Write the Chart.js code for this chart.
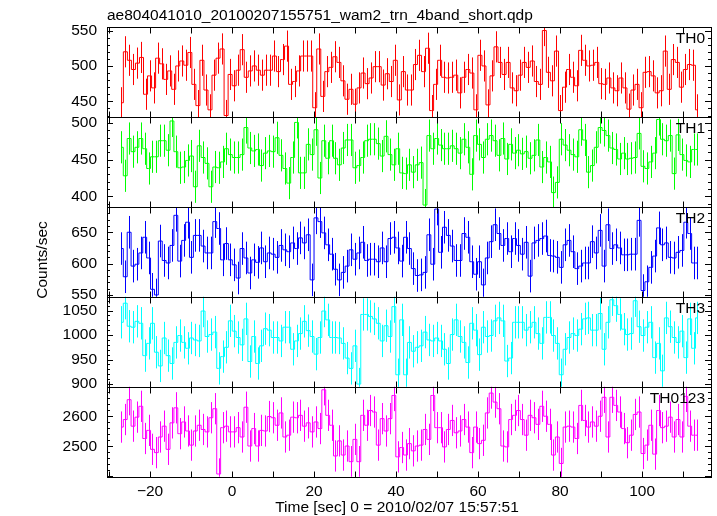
<!DOCTYPE html>
<html>
<head>
<meta charset="utf-8">
<script src="https://cdn.jsdelivr.net/npm/chart.js@4/dist/chart.umd.min.js"></script>
<style>
  html, body { margin: 0; padding: 0; background: #fff; }
</style>
</head>
<body>
<canvas id="qdpChart" width="717" height="516"></canvas>
<script>
// ---- data (1 s bins, counts/sec) ----
const plotTitle = 'ae804041010_20100207155751_wam2_trn_4band_short.qdp';
const xTitle = 'Time [sec] 0 = 2010/02/07 15:57:51';
const yTitle = 'Counts/sec';

const timeFirst = -27;     // centre of first bin
const timeLast = 113.5;    // centre of last bin

const th0Rates = [448, 520, 508, 495, 504, 512, 460, 486, 469, 511, 503, 481, 493, 467, 500, 507, 501, 519, 474, 444,
  508, 466, 438, 487, 511, 524, 430, 488, 472, 494, 523, 484, 493, 500, 494, 487, 494, 494, 514, 492,
  509, 528, 474, 478, 493, 514, 514, 514, 441, 524, 457, 492, 498, 513, 505, 479, 453, 467, 446, 469,
  490, 475, 483, 499, 499, 473, 489, 478, 508, 452, 492, 466, 466, 502, 515, 492, 525, 437, 474, 508,
  484, 483, 484, 487, 462, 484, 495, 490, 438, 515, 500, 445, 486, 527, 505, 488, 505, 469, 465, 487,
  505, 498, 507, 478, 474, 550, 491, 479, 521, 437, 470, 495, 484, 472, 522, 508, 500, 501, 505, 475,
  474, 483, 469, 465, 483, 469, 439, 466, 474, 441, 491, 492, 486, 462, 465, 521, 467, 509, 505, 470,
  495, 502, 501, 438];

const th1Rates = [467, 428, 479, 461, 467, 479, 465, 438, 454, 454, 476, 476, 463, 503, 461, 439, 440, 449, 455, 413,
  469, 453, 445, 413, 440, 439, 447, 465, 457, 453, 453, 457, 494, 466, 462, 464, 442, 459, 462, 461,
  480, 456, 438, 418, 453, 501, 432, 432, 471, 457, 491, 425, 476, 452, 476, 452, 443, 466, 477, 477,
  439, 442, 453, 476, 478, 478, 472, 455, 482, 457, 443, 465, 432, 431, 443, 433, 443, 446, 388, 483,
  465, 479, 470, 465, 465, 469, 465, 459, 478, 467, 430, 483, 471, 453, 478, 483, 476, 456, 479, 451,
  471, 459, 463, 458, 461, 452, 456, 477, 440, 453, 447, 405, 419, 478, 470, 463, 457, 454, 491, 477,
  433, 442, 467, 494, 490, 483, 466, 464, 451, 459, 451, 452, 453, 486, 441, 438, 447, 459, 505, 478,
  476, 483, 431, 484, 457, 449, 447, 464, 464];

const th2Rates = [624, 579, 650, 596, 599, 617, 642, 609, 559, 550, 636, 605, 601, 629, 677, 604, 637, 666, 610, 645,
  645, 628, 617, 617, 667, 656, 606, 632, 606, 598, 577, 624, 609, 585, 606, 602, 625, 603, 617, 615,
  610, 629, 622, 619, 633, 624, 641, 633, 646, 574, 673, 667, 649, 630, 615, 591, 574, 586, 596, 622,
  607, 617, 634, 605, 607, 607, 603, 625, 603, 640, 642, 625, 604, 642, 624, 592, 581, 582, 586, 646,
  599, 687, 618, 658, 645, 628, 605, 605, 648, 642, 603, 583, 603, 566, 609, 635, 662, 648, 629, 640,
  619, 640, 629, 615, 634, 580, 633, 637, 640, 644, 613, 612, 610, 594, 630, 637, 619, 592, 596, 601,
  601, 635, 617, 653, 596, 662, 624, 630, 625, 614, 614, 615, 615, 669, 557, 571, 594, 612, 657, 630,
  633, 610, 609, 618, 621, 666, 648, 601, 601];

const th3Rates = [1026, 1065, 1018, 1016, 1028, 1024, 958, 983, 1024, 965, 937, 994, 958, 942, 985, 999, 985, 973, 994, 990,
  988, 1049, 997, 1001, 1006, 932, 956, 975, 1029, 1008, 995, 980, 1033, 946, 997, 942, 978, 1013, 1010, 995,
  995, 988, 1016, 1016, 971, 988, 1003, 1028, 1009, 997, 961, 995, 1049, 1031, 995, 995, 994, 983, 953, 932,
  978, 900, 1042, 1042, 1038, 1033, 1024, 988, 1019, 997, 1058, 919, 1031, 919, 985, 967, 975, 978, 1006, 990,
  988, 994, 988, 971, 942, 1001, 1031, 997, 985, 944, 1024, 1010, 960, 1016, 997, 999, 1029, 1035, 1029, 947,
  953, 1026, 1026, 1026, 1010, 1016, 1026, 1003, 983, 1036, 1036, 999, 983, 919, 971, 995, 1003, 999, 1012, 1033,
  1035, 1010, 1010, 1044, 971, 1026, 1072, 1060, 1042, 1012, 1001, 1003, 1070, 1017, 999, 1016, 1026, 954, 983, 927,
  1035, 1017, 995, 985, 1008, 954, 1033, 973, 1035];

const th0123Rates = [2564, 2589, 2655, 2567, 2597, 2633, 2526, 2553, 2490, 2479, 2531, 2567, 2490, 2578, 2628, 2542, 2581, 2551, 2504, 2551,
  2570, 2556, 2548, 2595, 2625, 2408, 2562, 2567, 2548, 2548, 2562, 2531, 2630, 2501, 2559, 2501, 2553, 2551, 2599, 2595,
  2570, 2611, 2531, 2537, 2597, 2595, 2603, 2567, 2578, 2548, 2581, 2559, 2688, 2603, 2570, 2468, 2518, 2471, 2501, 2449,
  2523, 2449, 2603, 2570, 2619, 2614, 2504, 2592, 2551, 2592, 2669, 2465, 2496, 2471, 2509, 2485, 2501, 2504, 2556, 2523,
  2669, 2562, 2562, 2498, 2556, 2586, 2545, 2551, 2589, 2564, 2479, 2564, 2509, 2520, 2611, 2677, 2647, 2625, 2501, 2498,
  2589, 2603, 2619, 2589, 2537, 2603, 2595, 2573, 2633, 2600, 2573, 2471, 2531, 2443, 2564, 2567, 2564, 2526, 2636, 2586,
  2564, 2581, 2567, 2600, 2663, 2531, 2663, 2636, 2614, 2559, 2512, 2537, 2606, 2614, 2476, 2504, 2570, 2474, 2619, 2562,
  2567, 2597, 2531, 2589, 2531, 2666, 2567, 2537, 2537];

// typical 1-sigma error of one bin in each band
const th0Err = 22;
const th1Err = 22;
const th2Err = 26;
const th3Err = 33;
const th0123Err = 52;

// tick labels
const xTicks = [-20, 0, 20, 40, 60, 80, 100];
const th0Ticks = [450, 500, 550];
const th1Ticks = [400, 450, 500];
const th2Ticks = [550, 600, 650];
const th3Ticks = [900, 950, 1000, 1050];
const th0123Ticks = [2500, 2600];

// ---- look ----
const FONT = "'Liberation Sans', Arial, Helvetica, sans-serif";
const FONT_SIZE = 15.5;
Chart.defaults.font.family = FONT;
Chart.defaults.font.size = FONT_SIZE;
Chart.defaults.color = '#000';

const panels = [
  { id: 'yTH0', name: 'TH0', rates: th0Rates, err: th0Err, color: '#ff0000', min: 428, max: 555, ticks: th0Ticks, major: 50, minor: 10 },
  { id: 'yTH1', name: 'TH1', rates: th1Rates, err: th1Err, color: '#00ff00', min: 385.5, max: 508.5, ticks: th1Ticks, major: 50, minor: 10 },
  { id: 'yTH2', name: 'TH2', rates: th2Rates, err: th2Err, color: '#0000ff', min: 547, max: 690.5, ticks: th2Ticks, major: 50, minor: 10 },
  { id: 'yTH3', name: 'TH3', rates: th3Rates, err: th3Err, color: '#00ffff', min: 894.5, max: 1078, ticks: th3Ticks, major: 50, minor: 10 },
  { id: 'yTH0123', name: 'TH0123', rates: th0123Rates, err: th0123Err, color: '#ff00ff', min: 2399, max: 2698, ticks: th0123Ticks, major: 100, minor: 20 }
];

// points at bin centres, spread from first to last bin
function binPoints(rates) {
  const step = (timeLast - timeFirst) / (rates.length - 1);
  return rates.map((r, i) => ({ x: timeFirst + i * step, y: r }));
}

const datasets = panels.map(p => ({
  label: p.name,
  data: binPoints(p.rates),
  yAxisID: p.id,
  borderColor: p.color,
  borderWidth: 1,
  stepped: 'middle',
  pointRadius: 0,
  fill: false,
  errorBar: p.err
}));

const scales = {
  x: {
    type: 'linear',
    min: -30.5,
    max: 116.8,
    grid: { display: false, drawTicks: false },
    border: { display: false },
    ticks: {
      padding: 6,
      maxRotation: 0,
      autoSkip: false,
      callback: v => String(v).replace('-', '\u2212')
    },
    afterBuildTicks: s => { s.ticks = xTicks.map(v => ({ value: v })); },
    afterFit: s => { s.height = 39.3; }
  }
};
panels.forEach((p, i) => {
  scales[p.id] = {
    type: 'linear',
    position: 'left',
    stack: 'bands',
    stackWeight: 1,
    weight: panels.length - i,   // first panel on top
    min: p.min,
    max: p.max,
    grid: { display: false, drawTicks: false },
    border: { display: false },
    ticks: { padding: 10, autoSkip: false, callback: v => String(v) },
    afterBuildTicks: s => { s.ticks = p.ticks.map(v => ({ value: v })); },
    afterFit: s => { s.width = 107; }
  };
});

// frames, inward ticks, error bars and the texts qdp puts round the plot
const qdpPlugin = {
  id: 'qdpFrame',
  beforeDatasetDraw(chart, args) {
    const ds = chart.data.datasets[args.index];
    const ys = chart.scales[ds.yAxisID];
    const a = chart.chartArea;
    const ctx = chart.ctx;
    ctx.save();
    ctx.beginPath();
    ctx.rect(a.left, ys.top, a.right - a.left, ys.bottom - ys.top);
    ctx.clip();
  },
  afterDatasetDraw(chart, args) {
    const ds = chart.data.datasets[args.index];
    const xs = chart.scales.x;
    const ys = chart.scales[ds.yAxisID];
    const ctx = chart.ctx;
    ctx.strokeStyle = ds.borderColor;
    ctx.lineWidth = 1;
    ctx.beginPath();
    ds.data.forEach(p => {
      const x = Math.round(xs.getPixelForValue(p.x)) + 0.5;
      ctx.moveTo(x, ys.getPixelForValue(p.y + ds.errorBar));
      ctx.lineTo(x, ys.getPixelForValue(p.y - ds.errorBar));
    });
    ctx.stroke();
    ctx.restore();
  },
  afterDraw(chart) {
    const ctx = chart.ctx;
    const a = chart.chartArea;
    const xs = chart.scales.x;
    ctx.save();
    ctx.strokeStyle = '#000';
    ctx.lineWidth = 1;
    panels.forEach(p => {
      const ys = chart.scales[p.id];
      const top = Math.round(ys.top) + 0.5;
      const bot = Math.round(ys.bottom) + 0.5;
      ctx.strokeRect(Math.round(a.left) + 0.5, top, Math.round(a.right - a.left), bot - top);

      ctx.beginPath();
      for (let v = Math.ceil(p.min / p.minor) * p.minor; v <= p.max; v += p.minor) {
        const y = Math.round(ys.getPixelForValue(v)) + 0.5;
        const len = v % p.major === 0 ? 6 : 3;
        ctx.moveTo(a.left, y); ctx.lineTo(a.left + len, y);
        ctx.moveTo(a.right, y); ctx.lineTo(a.right - len, y);
      }
      for (let t = -30; t <= 110; t += 10) {
        const x = Math.round(xs.getPixelForValue(t)) + 0.5;
        ctx.moveTo(x, top); ctx.lineTo(x, top + 6);
        ctx.moveTo(x, bot); ctx.lineTo(x, bot - 6);
      }
      ctx.stroke();

      ctx.fillStyle = '#000';
      ctx.font = FONT_SIZE + 'px ' + FONT;
      ctx.textAlign = 'right';
      ctx.textBaseline = 'alphabetic';
      ctx.fillText(p.name, 705, ys.top + 16.3);
    });

    ctx.fillStyle = '#000';
    ctx.font = FONT_SIZE + 'px ' + FONT;
    ctx.textBaseline = 'alphabetic';
    ctx.textAlign = 'left';
    ctx.fillText(plotTitle, a.left, 20);
    ctx.textAlign = 'center';
    ctx.fillText(xTitle, 397, 511.5);

    ctx.translate(46.5, 260);
    ctx.rotate(-Math.PI / 2);
    ctx.fillText(yTitle, 0, 0);
    ctx.restore();
  }
};

new Chart(document.getElementById('qdpChart').getContext('2d'), {
  type: 'line',
  data: { datasets },
  options: {
    responsive: false,
    animation: false,
    devicePixelRatio: 1,
    layout: { padding: { top: 27, right: 6, bottom: 0, left: 0 } },
    plugins: { legend: { display: false }, tooltip: { enabled: false } },
    scales
  },
  plugins: [qdpPlugin]
});
</script>
</body>
</html>
